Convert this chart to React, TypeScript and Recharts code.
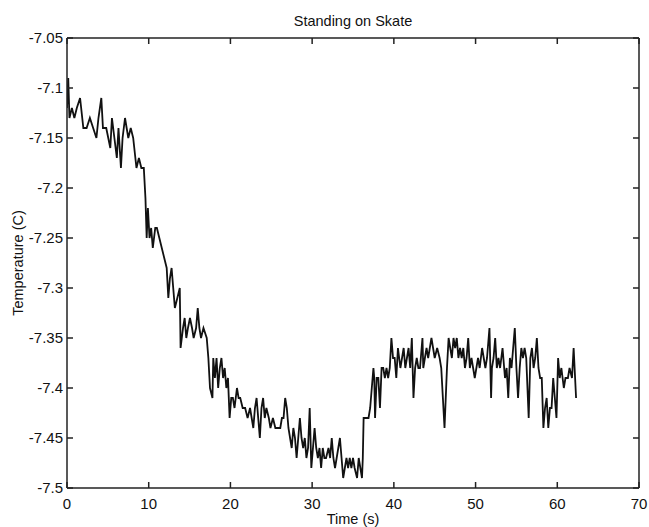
import { LineChart, Line, XAxis, YAxis } from 'recharts'

// time (s) and temperature (C)
const timeS = [
  0.0, 0.15, 0.3, 0.6, 0.9, 1.2, 1.6, 2.0, 2.4, 2.8, 3.2, 3.6, 3.85, 4.2, 4.4, 4.8,
  5.3, 5.5, 5.8, 6.1, 6.3, 6.6, 6.8, 7.1, 7.5, 7.8, 8.1, 8.5, 8.8, 9.1, 9.4, 9.6,
  9.75, 9.9, 10.1, 10.3, 10.5, 10.8, 11.0, 11.3, 11.6, 11.9, 12.2, 12.4, 12.6, 12.8,
  13.0, 13.2, 13.5, 13.8, 13.9, 14.2, 14.4, 14.6, 14.8, 15.05, 15.3, 15.5, 15.8, 16.0,
  16.2, 16.4, 16.7, 17.1, 17.3, 17.5, 17.8, 17.9, 18.1, 18.3, 18.5, 18.7, 18.9, 19.1,
  19.3, 19.5, 19.7, 19.9, 20.1, 20.3, 20.5, 20.8, 21.0, 21.2, 21.5, 21.8, 22.1, 22.4,
  22.8, 23.0, 23.2, 23.4, 23.6, 23.8, 24.0, 24.2, 24.4, 24.7, 24.9, 25.2, 25.5, 25.7,
  26.1, 26.3, 26.5, 26.7, 26.9, 27.1, 27.3, 27.5, 27.7, 27.9, 28.1, 28.3, 28.5, 28.7,
  28.9, 29.1, 29.3, 29.5, 29.7, 29.9, 30.1, 30.3, 30.5, 30.7, 30.9, 31.1, 31.3, 31.5,
  31.7, 32.0, 32.2, 32.4, 32.6, 32.8, 33.0, 33.2, 33.4, 33.6, 33.8, 34.0, 34.2, 34.4,
  34.6, 34.8, 35.0, 35.2, 35.5, 35.7, 35.9, 36.1, 36.2, 36.3, 36.6, 36.9, 37.1, 37.3,
  37.5, 37.6, 37.7, 37.9, 38.1, 38.3, 38.5, 38.7, 38.9, 39.1, 39.3, 39.5, 39.7, 39.9,
  40.1, 40.3, 40.5, 40.8, 41.0, 41.2, 41.4, 41.6, 41.8, 42.0, 42.2, 42.4, 42.6, 42.8,
  43.0, 43.2, 43.5, 43.6, 43.8, 44.0, 44.2, 44.4, 44.6, 44.8, 45.0, 45.3, 45.6, 45.8,
  46.0, 46.2, 46.4, 46.5, 46.7, 46.9, 47.1, 47.3, 47.5, 47.7, 47.9, 48.1, 48.3, 48.5,
  48.7, 48.9, 49.1, 49.3, 49.5, 49.7, 49.9, 50.1, 50.3, 50.5, 50.8, 51.0, 51.2, 51.4,
  51.7, 51.9, 52.0, 52.2, 52.4, 52.6, 52.8, 53.0, 53.3, 53.6, 53.8, 54.0, 54.2, 54.4,
  54.6, 54.8, 55.0, 55.2, 55.4, 55.6, 55.8, 56.0, 56.2, 56.5, 56.7, 56.9, 57.1, 57.3,
  57.5, 57.7, 57.9, 58.1, 58.3, 58.5, 58.7, 58.9, 59.1, 59.3, 59.5, 59.7, 59.9, 60.1,
  60.3, 60.5, 60.8, 61.0, 61.3, 61.5, 61.8, 62.0, 62.3
]

const tempC = [
  -7.12, -7.09, -7.13, -7.12, -7.13, -7.12, -7.11, -7.14, -7.14, -7.13, -7.14, -7.15, -7.13, -7.11, -7.14, -7.14,
  -7.16, -7.13, -7.15, -7.17, -7.14, -7.18, -7.15, -7.13, -7.15, -7.14, -7.15, -7.18, -7.17, -7.18, -7.18, -7.21,
  -7.25, -7.22, -7.25, -7.24, -7.26, -7.24, -7.24, -7.25, -7.26, -7.27, -7.28, -7.31, -7.29, -7.28,
  -7.3, -7.32, -7.31, -7.3, -7.36, -7.34, -7.33, -7.35, -7.34, -7.33, -7.34, -7.35, -7.34, -7.32,
  -7.34, -7.35, -7.34, -7.35, -7.37, -7.4, -7.41, -7.37, -7.39, -7.37, -7.4, -7.38, -7.37, -7.39,
  -7.38, -7.4, -7.39, -7.43, -7.41, -7.41, -7.42, -7.4, -7.41, -7.41, -7.42, -7.42, -7.43, -7.42,
  -7.44, -7.42, -7.41, -7.43, -7.45, -7.42, -7.41, -7.43, -7.42, -7.43, -7.44, -7.43, -7.44, -7.44,
  -7.44, -7.43, -7.43, -7.41, -7.42, -7.44, -7.45, -7.46, -7.44, -7.45, -7.47, -7.45, -7.43, -7.45,
  -7.46, -7.45, -7.47, -7.46, -7.42, -7.48, -7.46, -7.44, -7.46, -7.47, -7.46, -7.48, -7.46, -7.47,
  -7.47, -7.46, -7.47, -7.45, -7.47, -7.48, -7.47, -7.46, -7.45, -7.47, -7.49, -7.48, -7.47, -7.48,
  -7.47, -7.48, -7.47, -7.48, -7.49, -7.47, -7.48, -7.49, -7.47, -7.43, -7.43, -7.43, -7.42, -7.4,
  -7.38, -7.39, -7.43, -7.39, -7.39, -7.42, -7.38, -7.38, -7.39, -7.38, -7.39, -7.38, -7.35, -7.37,
  -7.37, -7.39, -7.36, -7.38, -7.37, -7.36, -7.38, -7.37, -7.36, -7.38, -7.35, -7.41, -7.38, -7.37,
  -7.38, -7.38, -7.35, -7.38, -7.37, -7.36, -7.37, -7.36, -7.35, -7.36, -7.37, -7.36, -7.37, -7.38,
  -7.41, -7.44, -7.4, -7.38, -7.35, -7.36, -7.37, -7.35, -7.36, -7.35, -7.37, -7.36, -7.37, -7.36,
  -7.38, -7.37, -7.35, -7.38, -7.37, -7.38, -7.39, -7.38, -7.37, -7.38, -7.36, -7.37, -7.38, -7.37,
  -7.34, -7.41, -7.38, -7.37, -7.35, -7.38, -7.37, -7.38, -7.36, -7.39, -7.38, -7.41, -7.37, -7.38,
  -7.36, -7.34, -7.38, -7.41, -7.38, -7.36, -7.37, -7.36, -7.37, -7.43, -7.37, -7.36, -7.38, -7.37,
  -7.35, -7.38, -7.39, -7.39, -7.44, -7.42, -7.41, -7.44, -7.42, -7.42, -7.39, -7.41, -7.43, -7.37,
  -7.39, -7.38, -7.4, -7.39, -7.39, -7.38, -7.39, -7.36, -7.41
]

const xTicks = [0, 10, 20, 30, 40, 50, 60, 70]
const yTicks = [-7.5, -7.45, -7.4, -7.35, -7.3, -7.25, -7.2, -7.15, -7.1, -7.05]

const data = timeS.map((t, i) => ({ t, temp: tempC[i] }))

const font = 'Arial, "Liberation Sans", sans-serif'
const axisColor = '#222'
const tickStyle = { fill: '#111', fontSize: 15, fontFamily: font }
const labelStyle = { fill: '#111', fontSize: 14.5, fontFamily: font }
const fmtY = (v: number) => String(Number(v.toFixed(2)))
const blank = () => ''

export default function App() {
  return (
    <div style={{ position: 'absolute', left: 0, top: 0, width: 649, height: 527, background: '#fff' }}>
      <div
        style={{
          position: 'absolute',
          left: 67,
          width: 572,
          top: 13,
          textAlign: 'center',
          fontFamily: font,
          fontSize: 14.5,
          color: '#111'
        }}
      >
        Standing on Skate
      </div>
      <LineChart
        width={649}
        height={527}
        data={data}
        margin={{ top: 37, right: 9, bottom: 0, left: 7 }}
      >
        <XAxis
          dataKey='t'
          type='number'
          domain={[0, 70]}
          ticks={xTicks}
          allowDataOverflow
          height={39}
          stroke={axisColor}
          strokeWidth={1.5}
          tickSize={-6}
          tickMargin={16}
          tick={tickStyle}
          label={{
            value: 'Time (s)',
            position: 'insideBottom',
            offset: 3,
            style: labelStyle
          }}
        />
        <XAxis
          xAxisId='top'
          orientation='top'
          dataKey='t'
          type='number'
          domain={[0, 70]}
          ticks={xTicks}
          allowDataOverflow
          height={1}
          stroke={axisColor}
          strokeWidth={1.5}
          tickSize={-6}
          tickFormatter={blank}
        />
        <YAxis
          type='number'
          domain={[-7.5, -7.05]}
          ticks={yTicks}
          allowDataOverflow
          width={60}
          stroke={axisColor}
          strokeWidth={1.5}
          tickSize={-6}
          tickMargin={10}
          tick={tickStyle}
          tickFormatter={fmtY}
          label={{
            value: 'Temperature (C)',
            angle: -90,
            position: 'insideLeft',
            offset: 11,
            style: { ...labelStyle, textAnchor: 'middle' }
          }}
        />
        <YAxis
          yAxisId='right'
          orientation='right'
          type='number'
          domain={[-7.5, -7.05]}
          ticks={yTicks}
          allowDataOverflow
          width={1}
          stroke={axisColor}
          strokeWidth={1.5}
          tickSize={-6}
          tickFormatter={blank}
        />
        <Line
          dataKey='temp'
          type='linear'
          stroke='#111'
          strokeWidth={1.8}
          dot={false}
          isAnimationActive={false}
        />
      </LineChart>
    </div>
  )
}
